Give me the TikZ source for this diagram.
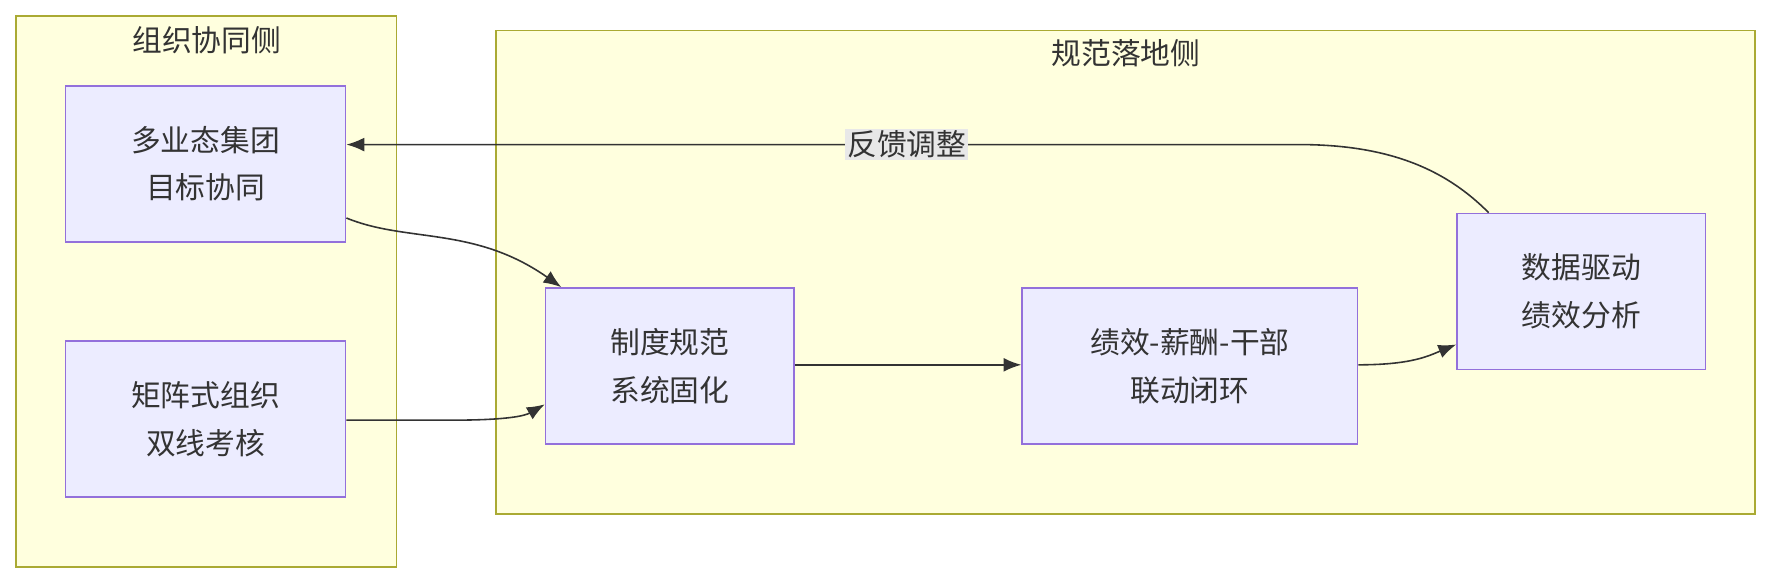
\documentclass[tikz,border=0pt]{standalone}
\usepackage{fontspec}
\newfontfamily\cjk{Noto Sans CJK SC}
\usetikzlibrary{arrows.meta,positioning}
\definecolor{clfill}{HTML}{FFFFDE}
\definecolor{clline}{HTML}{AAAA33}
\definecolor{ndfill}{HTML}{ECECFF}
\definecolor{ndline}{HTML}{9370DB}
\definecolor{edge}{HTML}{333333}
\tikzset{
  cluster/.style={draw=clline,fill=clfill,line width=0.8pt},
  box/.style={draw=ndline,fill=ndfill,line width=0.8pt,align=center,
    font=\cjk\fontsize{15}{24}\selectfont,text=edge,inner sep=0pt},
  flow/.style={draw=edge,line width=0.8pt,-{Latex[length=9pt,width=7pt]}},
}
\begin{document}
\begin{tikzpicture}[x=0.02cm,y=-0.02cm]
\useasboundingbox (0,0) rectangle (1568,517);
% clusters
\draw[cluster] (14,14) rectangle (351,502);
\draw[cluster] (439,27) rectangle (1554,455);
\node[font=\cjk\fontsize{15}{18}\selectfont,text=edge] (lt) at (183,36) {组织协同侧};
\node[font=\cjk\fontsize{15}{18}\selectfont,text=edge] (rt) at (997,47) {规范落地侧};
% nodes
\node[box,minimum width=248*0.02cm,minimum height=138*0.02cm] (goal) at (182,145) {多业态集团\\目标协同};
\node[box,minimum width=248*0.02cm,minimum height=138*0.02cm] (matrix) at (182,371) {矩阵式组织\\双线考核};
\node[box,minimum width=220*0.02cm,minimum height=138*0.02cm] (rule) at (593,324) {制度规范\\系统固化};
\node[box,minimum width=297*0.02cm,minimum height=138*0.02cm] (loop) at (1053.5,324) {绩效-薪酬-干部\\联动闭环};
\node[box,minimum width=220*0.02cm,minimum height=138*0.02cm] (data) at (1400,258) {数据驱动\\绩效分析};
% edges
\draw[flow] (goal.east |- 0,193) .. controls (360,215) and (420,200) .. (rule.north -| 497,0);
\draw[flow] (matrix.east |- 0,372) -- (400,372) .. controls (450,372) and (465,368) .. (rule.west |- 0,358);
\draw[flow] (rule.east |- 0,323) -- (loop.west |- 0,323);
\draw[flow] (loop.east |- 0,323) .. controls (1250,323) and (1265,315) .. (data.west |- 0,305);
\draw[flow] (data.north -| 1318,0) .. controls (1280,150) and (1230,128) .. (1150,128) -- (400,128) .. controls (350,128) .. (goal.east |- 0,128);
\node[fill=black!9,font=\cjk\fontsize{15}{18}\selectfont,text=edge,inner sep=1pt] (fb) at (803,128) {反馈调整};
\end{tikzpicture}
\end{document}
